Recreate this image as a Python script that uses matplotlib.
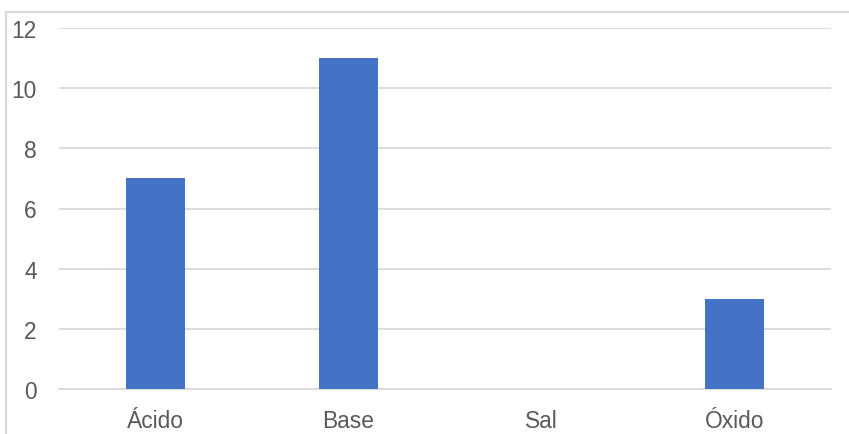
import matplotlib
matplotlib.use("Agg")
import matplotlib.pyplot as plt
from matplotlib.lines import Line2D

categories = ["Ácido", "Base", "Sal", "Óxido"]
values = [7, 11, 0, 3]
yticks = [0, 2, 4, 6, 8, 10, 12]

W, H = 849, 435
fig = plt.figure(figsize=(W / 100, H / 100), dpi=100)
plt.rcParams["font.family"] = ["Liberation Sans", "DejaVu Sans"]

left, right, top, bottom = 59, 831, 29, 390
ax = fig.add_axes([left / W, 1 - bottom / H, (right - left) / W, (bottom - top) / H])

x = range(len(categories))
ax.bar(x, values, width=0.31, color="#4472C4", zorder=3)

ax.set_xlim(-0.5, len(categories) - 0.5)
ax.set_ylim(0, 12)
ax.set_yticks(yticks)
ax.set_xticks(list(x))
ax.set_xticklabels(categories)
ax.grid(axis="y", color="#d9d9d9", linewidth=1.3, zorder=0)
ax.tick_params(axis="both", length=0, labelsize=16.4, colors="#595959")
ax.tick_params(axis="y", pad=16)
ax.tick_params(axis="x", pad=14.5)
for s in ["top", "right", "left"]:
    ax.spines[s].set_visible(False)
ax.spines["bottom"].set_color("#d9d9d9")
ax.spines["bottom"].set_linewidth(1.3)

# outer chart frame (top and left edges)
fig.add_artist(Line2D([6 / W, 1], [1 - 13 / H, 1 - 13 / H], transform=fig.transFigure,
                      color="#d9d9d9", linewidth=1.5))
fig.add_artist(Line2D([6 / W, 6 / W], [0, 1 - 13 / H], transform=fig.transFigure,
                      color="#d9d9d9", linewidth=1.5))

fig.savefig("out.png", dpi=100)
